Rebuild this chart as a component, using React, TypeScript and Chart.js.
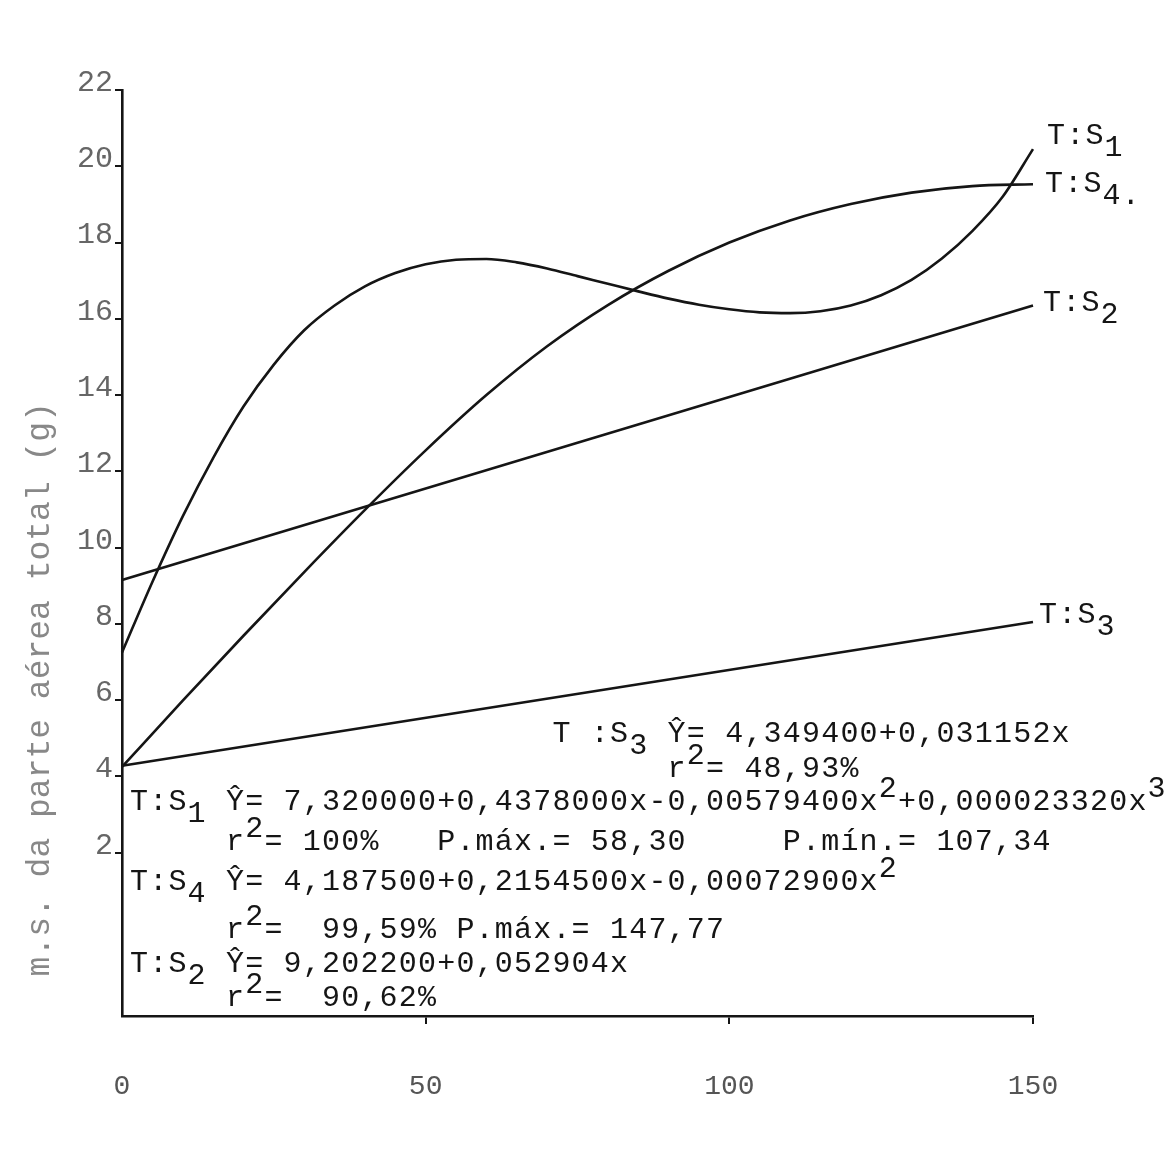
import { useEffect, useRef } from "react";
import { Chart, registerables } from "chart.js";

Chart.register(...registerables);

// ---- data ----
const xS1 = [0, 5, 10, 15, 20, 25, 30, 35, 40, 45, 50, 55, 60, 65, 70, 75, 80, 85, 90, 95, 100, 105, 110, 115, 120, 125, 130, 135, 140, 145, 150];
const s1Values = [7.25, 9.1, 10.82, 12.35, 13.7, 14.8, 15.7, 16.35, 16.85, 17.2, 17.43, 17.55, 17.57, 17.48, 17.32, 17.12, 16.92, 16.72, 16.53, 16.37, 16.25, 16.17, 16.15, 16.2, 16.35, 16.62, 17.02, 17.58, 18.3, 19.2, 20.45];
const xS4 = [0, 10, 20, 30, 40, 50, 60, 70, 80, 90, 100, 110, 120, 130, 140, 150];
const s4Values = [4.25, 5.99, 7.69, 9.36, 10.99, 12.55, 14.0, 15.28, 16.36, 17.26, 18.0, 18.58, 19.01, 19.31, 19.48, 19.53];
const xLine = [0, 150];
const s2Values = [9.15, 16.35];
const s3Values = [4.28, 8.05];
const yTickValues = [2, 4, 6, 8, 10, 12, 14, 16, 18, 20, 22];
const xTickValues = [0, 50, 100, 150];
const seriesNames = ["S1", "S4", "S2", "S3"];
const seriesSubs = ["1", "4.", "2", "3"];
const yTitle = "  m.s. da parte aérea total (g)";

// ---- annotation text (typewritten equations) ----
type Seg = [string, number];
const equationLines: { col: number; y: number; segs: Seg[] }[] = [
  { col: 22, y: 4.9, segs: [["T :S", 0], ["3", 1], [" Ŷ= 4,349400+0,031152x", 0]] },
  { col: 28, y: 3.98, segs: [["r", 0], ["2", -1], ["= 48,93%", 0]] },
  { col: 0, y: 3.12, segs: [["T:S", 0], ["1", 1], [" Ŷ= 7,320000+0,4378000x-0,00579400x", 0], ["2", -1], ["+0,000023320x", 0], ["3", -1]] },
  { col: 5, y: 2.07, segs: [["r", 0], ["2", -1], ["= 100%   P.máx.= 58,30     P.mín.= 107,34", 0]] },
  { col: 0, y: 1.02, segs: [["T:S", 0], ["4", 1], [" Ŷ= 4,187500+0,2154500x-0,00072900x", 0], ["2", -1]] },
  { col: 5, y: -0.24, segs: [["r", 0], ["2", -1], ["=  99,59% P.máx.= 147,77", 0]] },
  { col: 0, y: -1.13, segs: [["T:S", 0], ["2", 1], [" Ŷ= 9,202200+0,052904x", 0]] },
  { col: 5, y: -2.02, segs: [["r", 0], ["2", -1], ["=  90,62%", 0]] },
];
const labelOffsets = [
  [14, -13],
  [12, 0],
  [10, -2],
  [6, -7],
];

const MONO = '"Liberation Mono", "DejaVu Sans Mono", monospace';
const INK = "#151515";
const PITCH = 19.2;

function typeText(ctx: CanvasRenderingContext2D, text: string, x: number, y: number) {
  let cx = x;
  for (const ch of Array.from(text)) {
    ctx.fillText(ch, cx, y);
    cx += PITCH;
  }
  return cx;
}

const textPlugin = {
  id: "typewriterText",
  afterDatasetsDraw(chart: any) {
    const { ctx, chartArea, scales } = chart;
    ctx.save();
    ctx.font = `30px ${MONO}`;
    ctx.fillStyle = INK;
    ctx.textBaseline = "alphabetic";
    ctx.textAlign = "left";
    for (const line of equationLines) {
      let x = chartArea.left + 8 + line.col * PITCH;
      const base = scales.y.getPixelForValue(line.y);
      for (const [t, shift] of line.segs) {
        const dy = shift > 0 ? 12 : shift < 0 ? -13 : 0;
        x = typeText(ctx, t, x, base + dy);
      }
    }
    // end-of-line series labels
    ctx.textBaseline = "middle";
    chart.data.datasets.forEach((_: any, i: number) => {
      const meta = chart.getDatasetMeta(i);
      const last = meta.data[meta.data.length - 1];
      if (!last) return;
      const [dx, dy] = labelOffsets[i];
      const y = last.y + dy;
      const x = typeText(ctx, "T:S", last.x + dx, y);
      typeText(ctx, seriesSubs[i], x, y + 12);
    });
    ctx.restore();
  },
};

function toPoints(xs: number[], ys: number[]) {
  return xs.map((x, i) => ({ x, y: ys[i] }));
}

export default function App() {
  const ref = useRef<HTMLCanvasElement | null>(null);
  useEffect(() => {
    document.body.style.margin = "0";
    document.body.style.overflow = "hidden";
    document.body.style.background = "#ffffff";
    if (!ref.current) return;
    const common = {
      showLine: true,
      borderColor: INK,
      borderWidth: 2.6,
      pointRadius: 0,
      fill: false,
      clip: false as any,
    };
    const chart = new Chart(ref.current, {
      type: "scatter",
      data: {
        datasets: [
          { ...common, label: seriesNames[0], data: toPoints(xS1, s1Values), cubicInterpolationMode: "monotone" },
          { ...common, label: seriesNames[1], data: toPoints(xS4, s4Values), cubicInterpolationMode: "monotone" },
          { ...common, label: seriesNames[2], data: toPoints(xLine, s2Values) },
          { ...common, label: seriesNames[3], data: toPoints(xLine, s3Values) },
        ] as any,
      },
      options: {
        responsive: false,
        animation: false,
        layout: { padding: { top: 90, right: 139, left: 0, bottom: 0 } },
        plugins: { legend: { display: false }, tooltip: { enabled: false } },
        scales: {
          x: {
            type: "linear",
            min: 0,
            max: 150,
            afterBuildTicks: (s: any) => {
              s.ticks = xTickValues.map((v) => ({ value: v }));
            },
            afterFit: (s: any) => {
              s.height = 139;
            },
            border: { display: true, color: INK, width: 2.6 },
            grid: {
              display: true,
              drawOnChartArea: false,
              drawTicks: true,
              tickLength: 8,
              lineWidth: 2,
              color: (c: any) => (c.tick && c.tick.value === 0 ? "rgba(0,0,0,0)" : INK),
            },
            ticks: {
              color: "#555",
              font: { family: MONO, size: 28 },
              padding: 46,
              maxRotation: 0,
            },
          },
          y: {
            type: "linear",
            min: -2.28,
            max: 22,
            afterBuildTicks: (s: any) => {
              s.ticks = yTickValues.map((v) => ({ value: v }));
            },
            afterFit: (s: any) => {
              s.width = 122;
            },
            border: { display: true, color: INK, width: 2.6 },
            grid: {
              display: true,
              drawOnChartArea: false,
              drawTicks: true,
              tickLength: 7,
              lineWidth: 2,
              color: INK,
            },
            ticks: {
              color: "#666",
              font: { family: MONO, size: 30 },
              padding: 2,
              labelOffset: -7,
            },
            title: {
              display: true,
              text: yTitle,
              align: "start",
              color: "#888",
              font: { family: MONO, size: 33 },
              padding: { top: 20, bottom: 0 },
            },
          },
        },
      },
      plugins: [textPlugin],
    });
    return () => chart.destroy();
  }, []);
  return (
    <div style={{ width: 1172, height: 1155, background: "#fff" }}>
      <canvas ref={ref} width={1172} height={1155} style={{ display: "block" }} />
    </div>
  );
}
